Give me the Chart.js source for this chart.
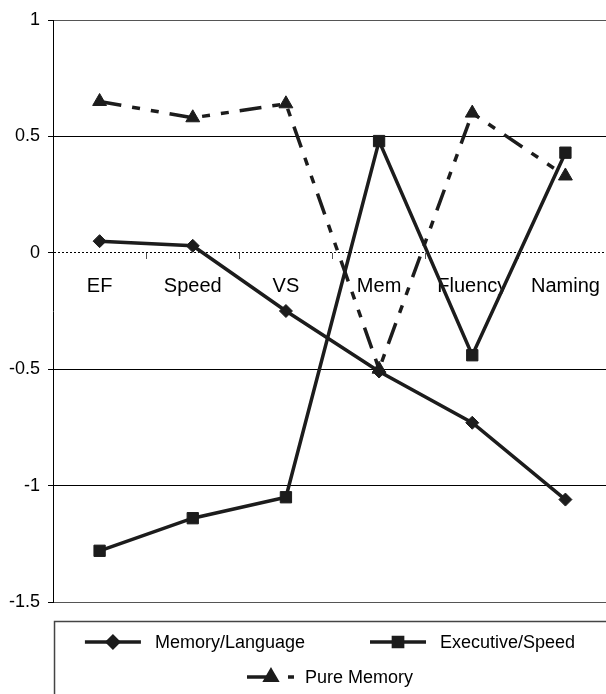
<!DOCTYPE html>
<html>
<head>
<meta charset="utf-8">
<script src="https://cdn.jsdelivr.net/npm/chart.js@4"></script>
<style>
  html, body { margin: 0; padding: 0; background: #fff; overflow: hidden; }
  canvas { display: block; }
</style>
</head>
<body>
<canvas id="profileChart" width="621" height="694"></canvas>
<script>
var categories = ['EF', 'Speed', 'VS', 'Mem', 'Fluency', 'Naming']
var memoryLanguage = [0.05, 0.03, -0.25, -0.51, -0.73, -1.06]
var executiveSpeed = [-1.28, -1.14, -1.05, 0.48, -0.44, 0.43]
var pureMemory = [0.65, 0.58, 0.64, -0.50, 0.60, 0.33]
var yTicks = [1, 0.5, 0, -0.5, -1, -1.5]

var ink = '#1c1c1c'
Chart.defaults.font.family = '"Liberation Sans", Arial, sans-serif'
Chart.defaults.color = '#000'

// legend drawn by hand: boxed, line + marker samples, two rows like the original
var boxLegend = {
  id: 'boxLegend',
  afterDraw: function(chart){
    var ctx = chart.ctx
    var area = chart.chartArea
    var top = area.bottom + 19
    var left = area.left + 1
    ctx.save()
    ctx.strokeStyle = '#444'
    ctx.lineWidth = 1.5
    ctx.strokeRect(left + 0.5, top + 0.5, chart.width, chart.height)
    ctx.font = '18px "Liberation Sans", Arial, sans-serif'
    ctx.textBaseline = 'middle'
    var items = chart.data.datasets.map(function(ds){
      var gap = ds.borderDash ? 58 : 70
      return { ds: ds, gap: gap, w: gap + ctx.measureText(ds.label).width }
    })
    var rows = [[items[0], items[1]], [items[2]]]
    var cx = (left + 606) / 2
    rows.forEach(function(row, r){
      var total = 0
      row.forEach(function(it){ total += it.w })
      total += 65 * (row.length - 1)
      var x = cx - total / 2
      var y = top + 21 + r * 35
      row.forEach(function(it){
        var ds = it.ds
        ctx.strokeStyle = ink
        ctx.fillStyle = ink
        ctx.lineWidth = 3.5
        ctx.beginPath()
        if(ds.borderDash){
          ctx.moveTo(x, y); ctx.lineTo(x + 26, y)
          ctx.moveTo(x + 41, y); ctx.lineTo(x + 47, y)
          ctx.stroke()
          Chart.helpers.drawPoint(ctx, { pointStyle: ds.pointStyle, radius: 6.5, rotation: 0, borderWidth: 1 }, x + 24, y)
        } else {
          ctx.moveTo(x, y); ctx.lineTo(x + 56, y)
          ctx.stroke()
          Chart.helpers.drawPoint(ctx, { pointStyle: ds.pointStyle, radius: ds.pointStyle == 'rect' ? 6.5 : 5.5, rotation: 0, borderWidth: 1 }, x + 28, y)
        }
        ctx.fillStyle = '#000'
        ctx.fillText(ds.label, x + it.gap, y + 1)
        x += it.w + 65
      })
    })
    ctx.restore()
  }
}

var ctx = document.getElementById('profileChart').getContext('2d')
var myChart = new Chart(ctx, {
  type: 'line',
  plugins: [boxLegend],
  data: {
    labels: categories,
    datasets: [{
      label: 'Memory/Language',
      data: memoryLanguage,
      borderColor: ink,
      backgroundColor: ink,
      borderWidth: 3.5,
      pointStyle: 'rectRot',
      pointRadius: 6.5,
      pointBorderWidth: 1,
    }, {
      label: 'Executive/Speed',
      data: executiveSpeed,
      borderColor: ink,
      backgroundColor: ink,
      borderWidth: 3.5,
      pointStyle: 'rect',
      pointRadius: 8,
      pointBorderWidth: 1,
    }, {
      label: 'Pure Memory',
      data: pureMemory,
      borderColor: ink,
      backgroundColor: ink,
      borderWidth: 3.5,
      borderDash: [22, 11, 8, 11, 8, 11],
      pointStyle: 'triangle',
      pointRadius: 8,
      pointBorderWidth: 1,
    }]
  },
  options: {
    responsive: false,
    animation: false,
    elements: { line: { tension: 0, fill: false } },
    layout: { padding: { top: 20, left: 1, right: 1, bottom: 92 } },
    plugins: {
      legend: { display: false },
      tooltip: { enabled: false }
    },
    scales: {
      x: {
        type: 'category',
        offset: true,
        position: { y: 0 },
        grid: { drawOnChartArea: false, offset: true, tickLength: 6, color: '#555' },
        border: { display: false },
        ticks: { padding: 16, font: { size: 20 }, color: '#000' }
      },
      y: {
        min: -1.5,
        max: 1,
        afterBuildTicks: function(scale){
          scale.ticks = yTicks.map(function(v){ return { value: v } })
        },
        grid: {
          color: function(c){ return (c.tick && (c.tick.value == 1 || c.tick.value == -1.5)) ? '#555' : '#000' },
          lineWidth: 1,
          tickLength: 5,
          tickColor: '#000'
        },
        border: {
          display: true,
          color: '#000',
          width: 1,
          dash: function(c){ return (c.tick && c.tick.value == 0) ? [2, 2] : [] }
        },
        ticks: {
          padding: 8,
          font: { size: 18 },
          color: '#000',
          callback: function(v){ return String(v) }
        }
      }
    }
  }
})
</script>
</body>
</html>
